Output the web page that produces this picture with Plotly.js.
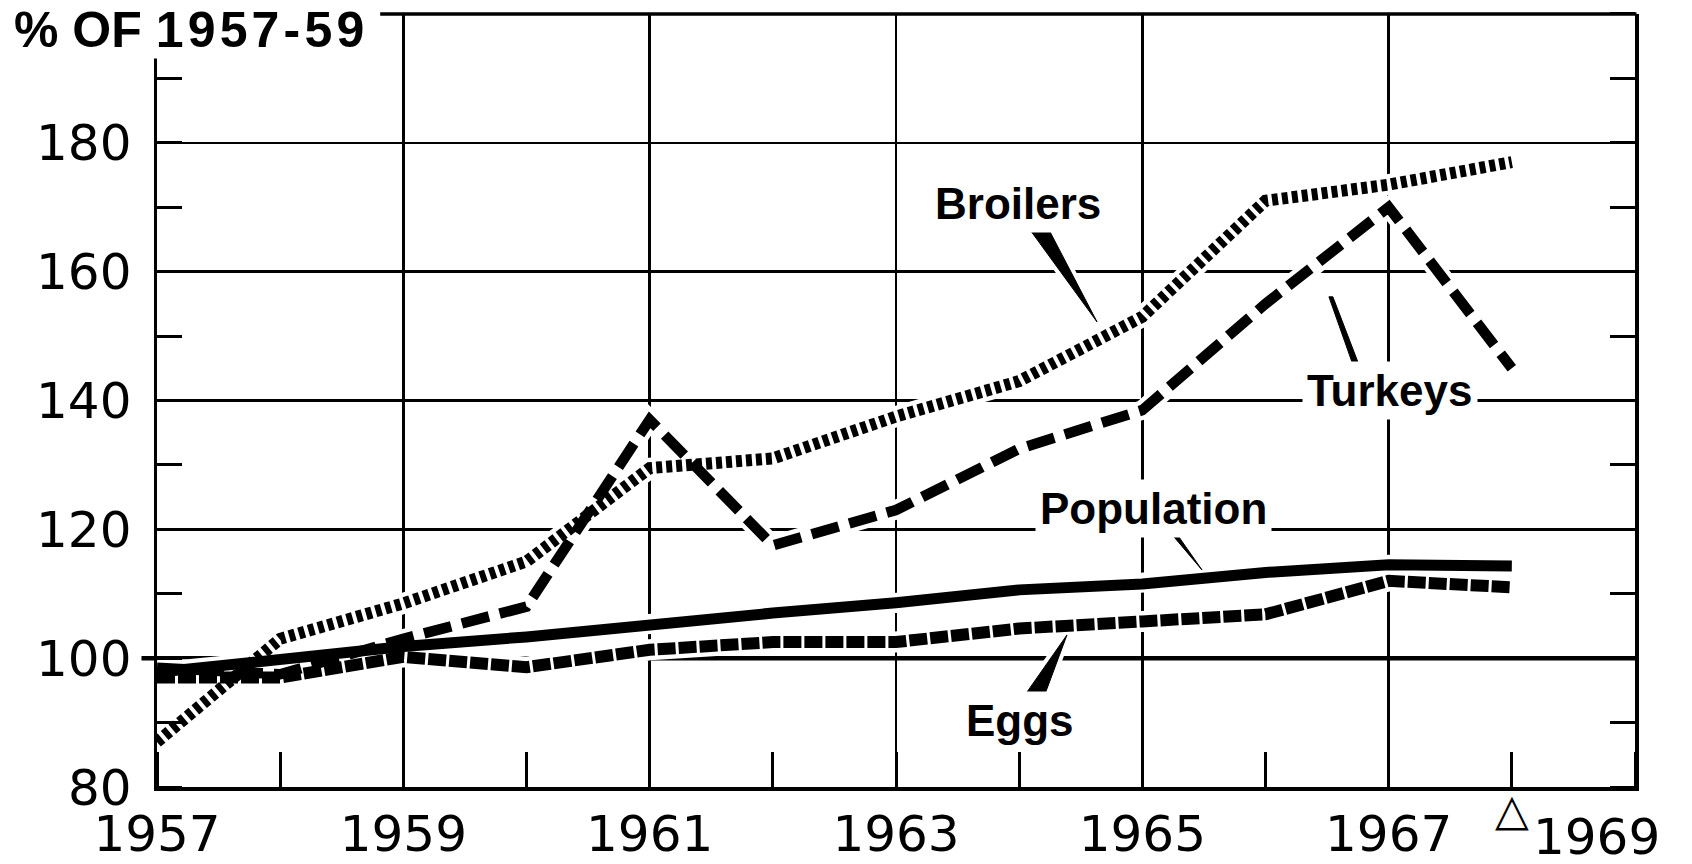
<!DOCTYPE html>
<html>
<head>
<meta charset="utf-8">
<script src="https://cdn.plot.ly/plotly-3.0.1.min.js"></script>
<style>
  html, body { margin: 0; padding: 0; background: #fff; }
  #chart { width: 1692px; height: 864px; }
</style>
</head>
<body>
<div id="chart"></div>
<script>
// ---- data ----
const years      = [1957, 1958, 1959, 1960, 1961, 1962, 1963, 1964, 1965, 1966, 1967, 1968];
const broilers   = [87, 103, 108.5, 115, 129.5, 131, 137.5, 143, 153, 171, 173.5, 177];
const turkeys    = [98.5, 97.5, 103, 108, 137, 117.5, 123, 132.5, 138.5, 155, 170, 145];
const population = [97.8, 99.8, 101.8, 103.3, 105.3, 107, 108.6, 110.6, 111.5, 113.3, 114.5, 114.3];
const eggs       = [97, 97, 100.2, 98.6, 101.3, 102.5, 102.5, 104.6, 105.7, 106.8, 112, 111];

const seriesNames = ['Broilers', 'Turkeys', 'Population', 'Eggs'];
const xTickYears  = [1957, 1959, 1961, 1963, 1965, 1967];
const lastYearLabel = '1969';
const xEnd = 1969;
const yTickValues = [80, 100, 120, 140, 160, 180];
const yTitle = '% OF 1\u200A9\u200A5\u200A7\u200A-\u200A5\u200A9';
const markerLabel = '\u25B3';   // triangle under 1968

// ---- styles ----
const INK = '#000';
const FONT = 'Liberation Sans, Arial, sans-serif';
const TICKFONT = {family: 'DejaVu Sans, sans-serif', size: 50, color: INK};
const styles = {
  Broilers:   {width: 12, dash: '6px,4px'},
  Turkeys:    {width: 10.5, dash: '28px,11px'},
  Population: {width: 11, dash: 'solid'},
  Eggs:       {width: 12, dash: '18px,3px'}
};
const values = {Broilers: broilers, Turkeys: turkeys, Population: population, Eggs: eggs};
const order = ['Eggs', 'Population', 'Turkeys', 'Broilers'];

const traces = [];
// white halos (break the grid where the curves pass)
order.forEach(n => traces.push({
  x: years, y: values[n], type: 'scatter', mode: 'lines',
  line: {color: '#fff', width: styles[n].width + 9},
  hoverinfo: 'skip', showlegend: false
}));
order.forEach(n => traces.push({
  x: years, y: values[n], type: 'scatter', mode: 'lines', name: n,
  line: {color: INK, width: styles[n].width, dash: styles[n].dash},
  hoverinfo: 'skip', showlegend: false
}));

// callout pointers (data coordinates)
const pointers = [
  'M1964.088,166.49 L1964.242,166.49 L1964.632,152.2 Z',        // Broilers
  'M1966.515,156.09 L1966.547,156.09 L1966.759,145.53 L1966.710,145.53 Z', // Turkeys
  'M1965.257,118.82 L1965.297,118.82 L1965.484,113.7 Z',         // Population
  'M1964.388,103.6 L1964.201,93.98 L1964.047,94.29 Z'            // Eggs
];
const shapes = [];
// heavy 100 line, extending left of the axis
shapes.push({type: 'line', xref: 'paper', yref: 'y', x0: -0.0105, x1: 1, y0: 100, y1: 100,
  line: {color: INK, width: 4.5}, layer: 'between'});
// top frame, starting right of the title
shapes.push({type: 'line', xref: 'paper', yref: 'paper', x0: 0.151, x1: 1.001, y0: 1, y1: 1,
  line: {color: INK, width: 3.5}, layer: 'above'});
pointers.forEach(p => {
  shapes.push({type: 'path', xref: 'x', yref: 'y', path: p, fillcolor: '#fff',
    line: {color: '#fff', width: 9}, layer: 'between'});
});
pointers.forEach(p => {
  shapes.push({type: 'path', xref: 'x', yref: 'y', path: p, fillcolor: INK,
    line: {color: INK, width: 1}, layer: 'above'});
});

const labelFont = {family: FONT, size: 44, color: INK};
const annotations = [
  {x: 1963.99, y: 170.5, text: '<b>' + seriesNames[0] + '</b>'},
  {x: 1967.01, y: 141.6, text: '<b>' + seriesNames[1] + '</b>'},
  {x: 1965.09, y: 123.2, text: '<b>' + seriesNames[2] + '</b>'},
  {x: 1964.01, y: 90.25, text: '<b>' + seriesNames[3] + '</b>'}
].map(a => Object.assign({xref: 'x', yref: 'y', showarrow: false, font: labelFont,
  bgcolor: '#fff', borderpad: 4, xanchor: 'center', yanchor: 'middle'}, a));

annotations.push({xref: 'paper', yref: 'paper', x: -0.0974, y: 0.9787, xanchor: 'left', yanchor: 'middle',
  text: '<b>' + yTitle + '</b>', showarrow: false, bgcolor: '#fff', borderpad: 0,
  font: {family: FONT, size: 50, color: INK}});
annotations.push({xref: 'x', yref: 'paper', x: years[years.length - 1], y: -0.029,
  xanchor: 'center', yanchor: 'middle', text: '<b>' + markerLabel + '</b>', showarrow: false,
  font: {family: 'DejaVu Sans, sans-serif', size: 44, color: INK}});
// last year label, pulled inside the page like the reference
annotations.push({xref: 'x', yref: 'paper', x: xEnd, xshift: 27, y: -0.065,
  xanchor: 'right', yanchor: 'middle', text: lastYearLabel, showarrow: false, font: TICKFONT});

const layout = {
  width: 1692, height: 864,
  margin: {l: 157, r: 57, t: 14, b: 77, pad: 0},
  paper_bgcolor: '#fff', plot_bgcolor: '#fff',
  showlegend: false, hovermode: false,
  xaxis: {
    range: [1957, xEnd], tickmode: 'array', tickvals: xTickYears,
    showgrid: true, gridcolor: INK, gridwidth: 2.5, zeroline: false,
    showline: true, linecolor: INK, linewidth: 3.5, mirror: false,
    ticks: '', ticklabelstandoff: 0,
    tickfont: TICKFONT,
    minor: {tick0: 1957, dtick: 1, ticks: 'inside', ticklen: 35, tickwidth: 3, tickcolor: INK, showgrid: false},
    fixedrange: true
  },
  yaxis: {
    range: [80, 199.99], tickmode: 'array', tickvals: yTickValues,
    showgrid: true, gridcolor: INK, gridwidth: 2.5, zeroline: false,
    showline: true, linecolor: INK, linewidth: 3.5, mirror: 'ticks',
    ticks: '', ticklabelstandoff: 12,
    tickfont: TICKFONT,
    minor: {tick0: 80, dtick: 10, ticks: 'inside', ticklen: 25, tickwidth: 3, tickcolor: INK, showgrid: false},
    fixedrange: true
  },
  shapes: shapes,
  annotations: annotations
};

Plotly.newPlot('chart', traces, layout, {displayModeBar: false, staticPlot: true});
</script>
</body>
</html>
